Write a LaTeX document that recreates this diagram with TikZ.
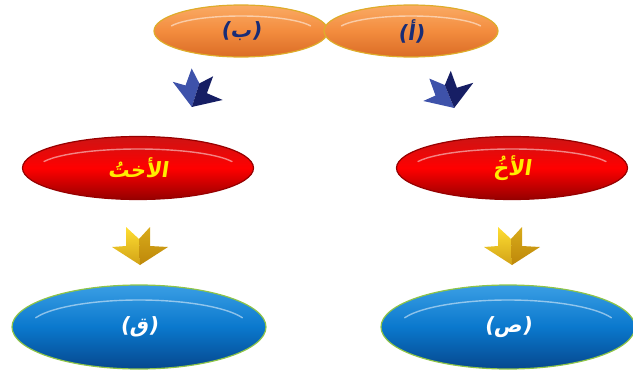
\documentclass[tikz,border=0pt]{standalone}
\usepackage{fontspec}
\usepackage{tikz}
\usetikzlibrary{shapes.geometric}
\TeXXeTstate=1
\newfontfamily\arabicfont[Script=Arabic,FakeSlant=0.15]{DejaVu Sans}

\definecolor{orangetop}{RGB}{250,170,100}
\definecolor{orangemid}{RGB}{243,140,62}
\definecolor{orangebot}{RGB}{218,108,38}
\definecolor{goldrim}{RGB}{222,172,42}
\definecolor{navytext}{RGB}{24,44,118}
\definecolor{redtop}{RGB}{205,20,20}
\definecolor{redbot}{RGB}{150,0,0}
\definecolor{bluetop}{RGB}{58,158,228}
\definecolor{bluemid}{RGB}{10,120,205}
\definecolor{bluebot}{RGB}{6,72,142}
\definecolor{greenrim}{RGB}{142,196,72}
\definecolor{signyellow}{RGB}{255,236,0}
\definecolor{navydark}{RGB}{22,30,100}
\definecolor{navylight}{RGB}{62,82,170}
\definecolor{goldlight}{RGB}{255,222,50}
\definecolor{golddark}{RGB}{190,136,10}

\tikzset{
  downarrow/.pic={
    % left facet
    \path[facelight] (-14,-19) -- (-1,-7) -- (0,19) -- (-28,1) -- (-14,0) -- cycle;
    % right facet
    \path[facedark] (-1,-7) -- (10,-19) -- (10,0) -- (28,1) -- (0,19) -- cycle;
  }
}

\begin{document}
\begin{tikzpicture}[x=1pt,y=-1pt,
  gloss/.style 2 args={path picture={
    \draw[white,opacity=.5,line width=1.4pt,line cap=round]
      (path picture bounding box.center) ++(200:#1 and #2)
      arc[start angle=200,end angle=340,x radius=#1,y radius=#2];}},
  bubble/.style={ellipse,inner sep=0pt,line width=1.2pt},
  topbubble/.style={bubble,minimum width=174pt,minimum height=52pt,
    draw=goldrim,top color=orangetop,bottom color=orangebot,middle color=orangemid,
    text=navytext,font=\arabicfont\bfseries\fontsize{21}{24}\selectfont,gloss={74}{15}},
  redbubble/.style={bubble,minimum width=231pt,minimum height=63pt,
    draw=redbot,top color=redtop,bottom color=redbot,middle color=red,
    text=signyellow,font=\arabicfont\bfseries\fontsize{21}{24}\selectfont,gloss={100}{19}},
  bluebubble/.style={bubble,minimum width=254pt,minimum height=84pt,
    draw=greenrim,top color=bluetop,bottom color=bluebot,middle color=bluemid,
    text=white,font=\arabicfont\bfseries\fontsize{21}{24}\selectfont,gloss={110}{27}},
  navyarrow/.style={scale=.95,facelight/.style={fill=navylight},facedark/.style={fill=navydark}},
  goldarrow/.style={facelight/.style={top color=goldlight,bottom color=golddark!70!goldlight},
    facedark/.style={top color=golddark!60!goldlight,bottom color=golddark}},
]
\useasboundingbox (0,0) rectangle (633,380);

% top pair
\node[topbubble] (b) at (241,31) {(ب)};
\node[topbubble] (a) at (411,31) {(أ)};

\pic[navyarrow,rotate=-20] at (198,90) {downarrow};
\pic[navyarrow,rotate=20] at (448,91) {downarrow};

% middle row
\node[redbubble] (sister) at (138,168) {\beginR الأختُ\endR};
\node[redbubble] (brother) at (512,168) {\beginR الأخُ\endR};

\pic[goldarrow] at (140,246) {downarrow};
\pic[goldarrow] at (512,246) {downarrow};

% bottom row
\node[bluebubble] (q) at (139,327) {(ق)};
\node[bluebubble] (s) at (508,327) {(ص)};
\end{tikzpicture}
\end{document}
